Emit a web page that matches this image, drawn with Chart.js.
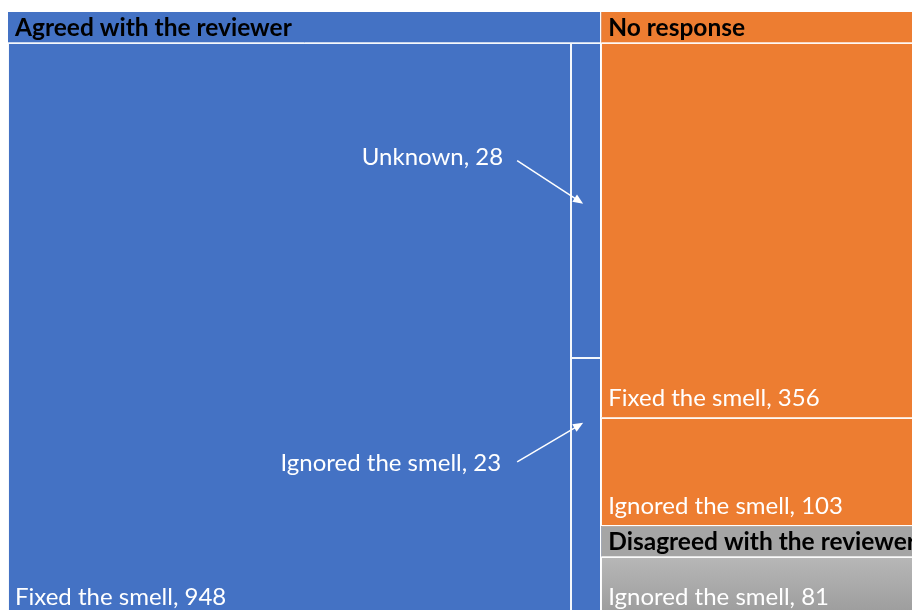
<!DOCTYPE html>
<html lang="en">
<head>
  <meta charset="UTF-8">
  <script src="https://cdn.jsdelivr.net/npm/chart.js"></script>
  <title>Reviewer response treemap</title>
  <style>
    body { margin: 0; background: #fff; }
    .recorte { width: 912px; height: 610px; overflow: hidden; position: relative; }
    .area { width: 922px; height: 617px; position: absolute; left: 0; top: 0; }
  </style>
</head>
<body>
  <div class="recorte">
    <div class="area">
      <canvas id="canvas_treemap"></canvas>
    </div>
  </div>

  <script>
    // grupos (nivel 1) e folhas (nivel 2)
    const grupos = ['Agreed with the reviewer', 'No response', 'Disagreed with the reviewer'];
    const coresGrupo = ['#4472C4', '#ED7D31', '#A5A5A5'];

    const folhaGrupo = [0, 0, 0, 1, 1, 2];
    const folhaNome = ['Fixed the smell', 'Unknown', 'Ignored the smell', 'Fixed the smell', 'Ignored the smell', 'Ignored the smell'];
    const folhaValor = [948, 28, 23, 356, 103, 81];

    // folhas pequenas demais: rotulo fora com seta
    const chamadas = [
      { folha: 1, fracY: 0.51, dx: -66, dy: -43, textoDx: -80, textoDy: -39 },
      { folha: 2, fracY: 0.25, dx: -66, dy: 39, textoDx: -82, textoDy: 48 }
    ];

    const alturaCabecalho = 31;
    const fonte = '"Lato", "Open Sans", sans-serif';

    function soma(arr) { return arr.reduce((a, b) => a + b, 0); }

    function pior(linha, lado) {
      const s = soma(linha);
      let p = 0;
      linha.forEach(r => {
        p = Math.max(p, (lado * lado * r) / (s * s), (s * s) / (lado * lado * r));
      });
      return p;
    }

    // layout squarified, devolve retangulos na mesma ordem dos valores
    function squarify(valores, x, y, w, h) {
      const total = soma(valores);
      const areas = valores.map(v => v * w * h / total);
      const saida = [];
      let i = 0;
      while (i < areas.length) {
        const lado = Math.min(w, h);
        let linha = [areas[i]];
        let j = i + 1;
        while (j < areas.length && pior(linha.concat([areas[j]]), lado) <= pior(linha, lado)) {
          linha.push(areas[j]);
          j++;
        }
        const s = soma(linha);
        if (w >= h) {
          const sw = s / h;
          let yy = y;
          linha.forEach(a => { const hh = a / sw; saida.push({ x: x, y: yy, w: sw, h: hh }); yy += hh; });
          x += sw; w -= sw;
        } else {
          const sh = s / w;
          let xx = x;
          linha.forEach(a => { const ww = a / sh; saida.push({ x: xx, y: y, w: ww, h: sh }); xx += ww; });
          y += sh; h -= sh;
        }
        i = j;
      }
      return saida;
    }

    function seta(ctx, x0, y0, x1, y1) {
      const ang = Math.atan2(y1 - y0, x1 - x0);
      const tam = 11;
      ctx.save();
      ctx.strokeStyle = '#fff';
      ctx.fillStyle = '#fff';
      ctx.lineWidth = 1.5;
      ctx.beginPath();
      ctx.moveTo(x0, y0);
      ctx.lineTo(x1 - Math.cos(ang) * tam * 0.8, y1 - Math.sin(ang) * tam * 0.8);
      ctx.stroke();
      ctx.beginPath();
      ctx.moveTo(x1, y1);
      ctx.lineTo(x1 - tam * Math.cos(ang - 0.4), y1 - tam * Math.sin(ang - 0.4));
      ctx.lineTo(x1 - tam * Math.cos(ang + 0.4), y1 - tam * Math.sin(ang + 0.4));
      ctx.closePath();
      ctx.fill();
      ctx.restore();
    }

    const pluginTreemap = {
      id: 'treemap',
      afterDraw(chart) {
        const ctx = chart.ctx;
        const sx = chart.scales.x, sy = chart.scales.y;
        const x0 = sx.getPixelForValue(0), x1 = sx.getPixelForValue(1);
        const y0 = sy.getPixelForValue(1), y1 = sy.getPixelForValue(0);

        const totaisGrupo = grupos.map((g, gi) => soma(folhaValor.filter((v, k) => folhaGrupo[k] === gi)));
        const retGrupos = squarify(totaisGrupo, x0, y0, x1 - x0, y1 - y0);
        const retFolhas = [];

        ctx.save();
        retGrupos.forEach((rg, gi) => {
          // cabecalho
          ctx.fillStyle = coresGrupo[gi];
          ctx.fillRect(rg.x, rg.y, rg.w, rg.h);

          const idx = folhaValor.map((v, k) => k).filter(k => folhaGrupo[k] === gi);
          const conteudo = { x: rg.x, y: rg.y + alturaCabecalho, w: rg.w, h: rg.h - alturaCabecalho };
          const rets = squarify(idx.map(k => folhaValor[k]), conteudo.x, conteudo.y, conteudo.w, conteudo.h);

          rets.forEach((r, n) => {
            const k = idx[n];
            retFolhas[k] = r;
            if (gi === 2) {
              const grad = ctx.createLinearGradient(0, r.y, 0, r.y + r.h);
              grad.addColorStop(0, '#b7b7b7');
              grad.addColorStop(1, '#9b9b9b');
              ctx.fillStyle = grad;
            } else {
              ctx.fillStyle = coresGrupo[gi];
            }
            ctx.fillRect(r.x, r.y, r.w, r.h);
            ctx.strokeStyle = 'rgba(255,255,255,0.95)';
            ctx.lineWidth = 1;
            ctx.strokeRect(Math.round(r.x) + 0.5, Math.round(r.y) + 0.5, Math.round(r.w) - 1, Math.round(r.h) - 1);
          });

          // linha sob o cabecalho e borda do grupo
          ctx.strokeStyle = 'rgba(255,255,255,0.7)';
          ctx.lineWidth = 1;
          ctx.beginPath();
          ctx.moveTo(rg.x, Math.round(conteudo.y) - 0.5);
          ctx.lineTo(rg.x + rg.w, Math.round(conteudo.y) - 0.5);
          ctx.stroke();
          ctx.strokeStyle = 'rgba(255,255,255,0.8)';
          ctx.strokeRect(Math.round(rg.x) - 0.5, Math.round(rg.y) - 0.5, Math.round(rg.w), Math.round(rg.h));

          ctx.fillStyle = '#000';
          ctx.font = 'bold 24.5px ' + fonte;
          ctx.textAlign = 'left';
          ctx.textBaseline = 'alphabetic';
          ctx.fillText(grupos[gi], rg.x + 7, rg.y + 24);
        });

        // rotulos das folhas
        ctx.font = '24px ' + fonte;
        ctx.fillStyle = '#fff';
        folhaValor.forEach((v, k) => {
          const r = retFolhas[k];
          const texto = folhaNome[k] + ', ' + v;
          const ch = chamadas.find(c => c.folha === k);
          if (ch) {
            const px = r.x + r.w / 2 - 3;
            const py = r.y + r.h * ch.fracY;
            ctx.textAlign = 'right';
            ctx.fillText(texto, px + ch.textoDx, py + ch.textoDy);
            seta(ctx, px + ch.dx, py + ch.dy, px, py);
          } else {
            ctx.textAlign = 'left';
            ctx.fillText(texto, r.x + 7, r.y + r.h - 12);
          }
        });
        ctx.restore();
      }
    };

    const canvas = document.getElementById('canvas_treemap');
    new Chart(canvas.getContext('2d'), {
      type: 'scatter',
      data: { datasets: [{ data: [] }] },
      options: {
        responsive: true,
        maintainAspectRatio: false,
        animation: false,
        layout: { padding: { left: 8, top: 12, right: 0, bottom: 0 } },
        plugins: { legend: { display: false }, tooltip: { enabled: false } },
        scales: {
          x: { type: 'linear', min: 0, max: 1, display: false },
          y: { type: 'linear', min: 0, max: 1, display: false }
        }
      },
      plugins: [pluginTreemap]
    });
  </script>
</body>
</html>
